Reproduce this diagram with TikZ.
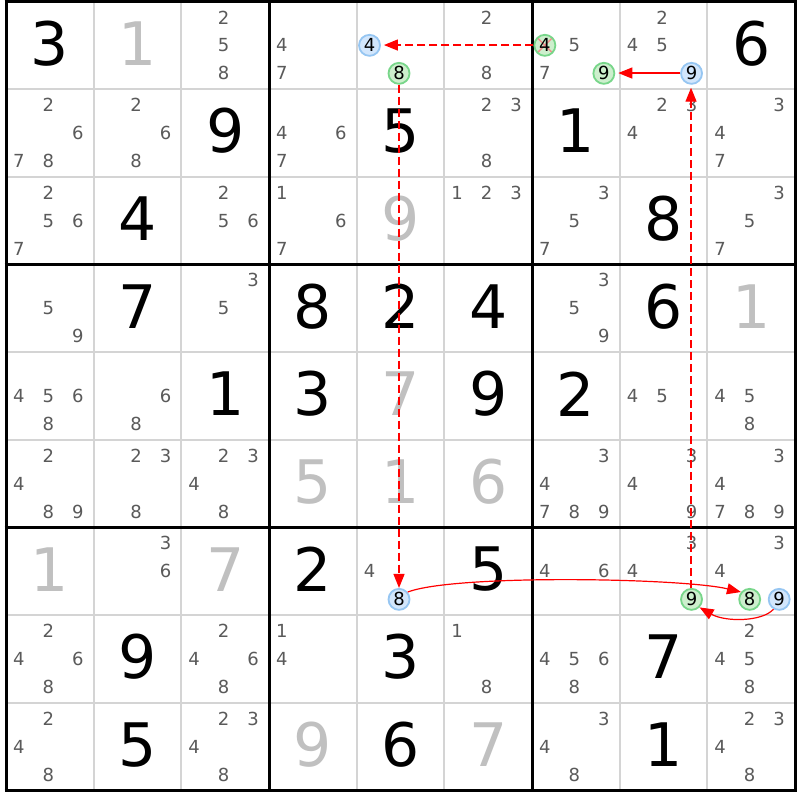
\documentclass[tikz,border=0pt]{standalone}
\usepackage{fontspec}
\setmainfont{DejaVu Sans}
\usetikzlibrary{arrows.meta}
\definecolor{candgray}{HTML}{5A5A5A}
\definecolor{solgray}{HTML}{C0C0C0}
\definecolor{gridgray}{HTML}{D4D4D4}
\definecolor{bluefill}{HTML}{D2E6FC}
\definecolor{bluedraw}{HTML}{96C6F2}
\definecolor{greenfill}{HTML}{CDEFCD}
\definecolor{greendraw}{HTML}{78D68A}
\definecolor{xred}{HTML}{F28C8C}
\definecolor{linkred}{HTML}{FF0000}
\tikzset{
 cndtxt/.style={text=candgray, font=\fontsize{18}{20}\selectfont, inner sep=0pt},
 gvntxt/.style={text=black, font=\fontsize{60}{70}\selectfont, inner sep=0pt},
 slvtxt/.style={text=solgray, font=\fontsize{60}{70}\selectfont, inner sep=0pt},
 bluec/.style={circle, draw=bluedraw, fill=bluefill, line width=1.8pt, minimum size=21pt, inner sep=0pt, text=black, font=\fontsize{18}{20}\selectfont},
 greenc/.style={circle, draw=greendraw, fill=greenfill, line width=1.8pt, minimum size=21pt, inner sep=0pt, text=black, font=\fontsize{18}{20}\selectfont},
 xmark/.style={path picture={
   \draw[xred, line width=1.4pt] ([shift={(-7pt,7pt)}]path picture bounding box.center) -- ([shift={(7pt,-7pt)}]path picture bounding box.center);
   \draw[xred, line width=1.4pt] ([shift={(-7pt,-7pt)}]path picture bounding box.center) -- ([shift={(7pt,7pt)}]path picture bounding box.center);}},
 thinl/.style={draw=gridgray, line width=2pt},
 thickl/.style={draw=black, line width=3pt},
 linkdash/.style={color=linkred, line width=1.4pt, dash pattern=on 8pt off 4pt, -{Triangle[length=14pt,width=11pt]}},
 linksolid/.style={color=linkred, line width=1.2pt, -{Triangle[length=14pt,width=11pt]}},
}
\newcommand\gvn[3]{\node[gvntxt] (g#1#2) at ({6+(#2-0.5)*87.67},{1.5+(#1-0.5)*87.67-2}) {#3};}
\newcommand\slv[3]{\node[slvtxt] (s#1#2) at ({6+(#2-0.5)*87.67},{1.5+(#1-0.5)*87.67-2}) {#3};}
\newcommand\cnd[3]{\foreach \d in {#3}{\node[cndtxt] (c#1#2\d) at ({6+(#2-0.5)*87.67-31+29.5*mod(\d-1,3)},{1.5+(#1-0.5)*87.67-28+28*floor((\d-1)/3)}) {\d};}}
\newcommand\ccnd[5]{\node[#4] (#5) at ({6+(#2-0.5)*87.67-31+29.5*mod(#3-1,3)},{1.5+(#1-0.5)*87.67-28+28*floor((#3-1)/3)}) {#3};}
\begin{document}
\begin{tikzpicture}[x=1pt,y=-1pt]
\useasboundingbox[fill=white] (0,0) rectangle (800,800);
% grid
\foreach \i in {1,2,4,5,7,8}{
  \draw[thinl] ({6+\i*87.67},1.5) -- ({6+\i*87.67},790.5);
  \draw[thinl] (6,{1.5+\i*87.67}) -- (795,{1.5+\i*87.67});
}
\foreach \i in {0,3,6,9}{
  \draw[thickl] ({6+\i*87.67},0) -- ({6+\i*87.67},792);
  \draw[thickl] (4.5,{1.5+\i*87.67}) -- (796.5,{1.5+\i*87.67});
}
% row 1
\gvn{1}{1}{3} \slv{1}{2}{1} \cnd{1}{3}{2,5,8} \cnd{1}{4}{4,7}
\ccnd{1}{5}{4}{bluec}{b4} \ccnd{1}{5}{8}{greenc}{g8a}
\cnd{1}{6}{2,8}
\cnd{1}{7}{5,7} \ccnd{1}{7}{4}{greenc,xmark}{gx4} \ccnd{1}{7}{9}{greenc}{g9a}
\cnd{1}{8}{2,4,5} \ccnd{1}{8}{9}{bluec}{b9a}
\gvn{1}{9}{6}
% row 2
\cnd{2}{1}{2,6,7,8} \cnd{2}{2}{2,6,8} \gvn{2}{3}{9} \cnd{2}{4}{4,6,7} \gvn{2}{5}{5}
\cnd{2}{6}{2,3,8} \gvn{2}{7}{1} \cnd{2}{8}{2,3,4} \cnd{2}{9}{3,4,7}
% row 3
\cnd{3}{1}{2,5,6,7} \gvn{3}{2}{4} \cnd{3}{3}{2,5,6} \cnd{3}{4}{1,6,7} \slv{3}{5}{9}
\cnd{3}{6}{1,2,3} \cnd{3}{7}{3,5,7} \gvn{3}{8}{8} \cnd{3}{9}{3,5,7}
% row 4
\cnd{4}{1}{5,9} \gvn{4}{2}{7} \cnd{4}{3}{3,5} \gvn{4}{4}{8} \gvn{4}{5}{2}
\gvn{4}{6}{4} \cnd{4}{7}{3,5,9} \gvn{4}{8}{6} \slv{4}{9}{1}
% row 5
\cnd{5}{1}{4,5,6,8} \cnd{5}{2}{6,8} \gvn{5}{3}{1} \gvn{5}{4}{3} \slv{5}{5}{7}
\gvn{5}{6}{9} \gvn{5}{7}{2} \cnd{5}{8}{4,5} \cnd{5}{9}{4,5,8}
% row 6
\cnd{6}{1}{2,4,8,9} \cnd{6}{2}{2,3,8} \cnd{6}{3}{2,3,4,8} \slv{6}{4}{5} \slv{6}{5}{1}
\slv{6}{6}{6} \cnd{6}{7}{3,4,7,8,9} \cnd{6}{8}{3,4,9} \cnd{6}{9}{3,4,7,8,9}
% row 7
\slv{7}{1}{1} \cnd{7}{2}{3,6} \slv{7}{3}{7} \gvn{7}{4}{2}
\cnd{7}{5}{4} \ccnd{7}{5}{8}{bluec}{b8}
\gvn{7}{6}{5} \cnd{7}{7}{4,6}
\cnd{7}{8}{3,4} \ccnd{7}{8}{9}{greenc}{g9b}
\cnd{7}{9}{3,4} \ccnd{7}{9}{8}{greenc}{g8b} \ccnd{7}{9}{9}{bluec}{b9b}
% row 8
\cnd{8}{1}{2,4,6,8} \gvn{8}{2}{9} \cnd{8}{3}{2,4,6,8} \cnd{8}{4}{1,4} \gvn{8}{5}{3}
\cnd{8}{6}{1,8} \cnd{8}{7}{4,5,6,8} \gvn{8}{8}{7} \cnd{8}{9}{2,4,5,8}
% row 9
\cnd{9}{1}{2,4,8} \gvn{9}{2}{5} \cnd{9}{3}{2,3,4,8} \slv{9}{4}{9} \gvn{9}{5}{6}
\slv{9}{6}{7} \cnd{9}{7}{3,4,8} \gvn{9}{8}{1} \cnd{9}{9}{2,3,4,8}
% links
\draw[linkdash] ([yshift=0.3pt]gx4.west) -- ([xshift=3pt,yshift=0.3pt]b4.east);
\draw[linkdash] (g8a) -- (b8);
\draw[linksolid] (b8.40) .. controls (455,574) and (682,578) .. (g8b.140);
\draw[linksolid] (b9b.-120) .. controls (762,622) and (725,622) .. (g9b.-45);
\draw[linkdash] ([xshift=-0.5pt]g9b.north) -- ([xshift=-0.5pt,yshift=-3pt]b9a.south);
\draw[linksolid] ([yshift=0.3pt]b9a.west) -- ([xshift=3pt,yshift=0.3pt]g9a.east);
\end{tikzpicture}
\end{document}
